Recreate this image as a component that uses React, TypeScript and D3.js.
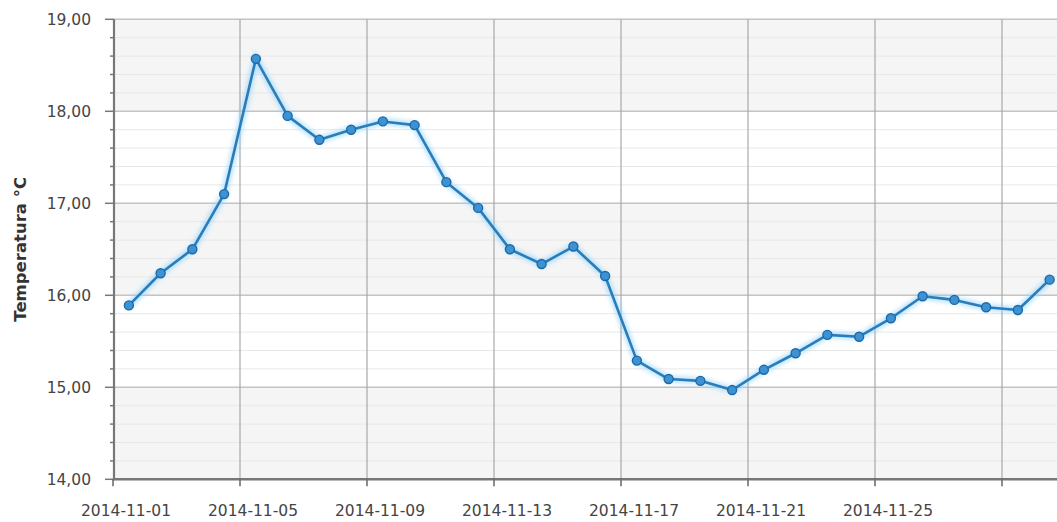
import React from "react";
import * as d3 from "d3";

const dates: string[] = [
  "2014-11-01","2014-11-02","2014-11-03","2014-11-04","2014-11-05","2014-11-06",
  "2014-11-07","2014-11-08","2014-11-09","2014-11-10","2014-11-11","2014-11-12",
  "2014-11-13","2014-11-14","2014-11-15","2014-11-16","2014-11-17","2014-11-18",
  "2014-11-19","2014-11-20","2014-11-21","2014-11-22","2014-11-23","2014-11-24",
  "2014-11-25","2014-11-26","2014-11-27","2014-11-28","2014-11-29","2014-11-30",
];
const temps: number[] = [
  15.89, 16.24, 16.50, 17.10, 18.57, 17.95, 17.69, 17.80, 17.89, 17.85,
  17.23, 16.95, 16.50, 16.34, 16.53, 16.21, 15.29, 15.09, 15.07, 14.97,
  15.19, 15.37, 15.57, 15.55, 15.75, 15.99, 15.95, 15.87, 15.84, 16.17,
];
const xTickDates: string[] = [
  "2014-11-01","2014-11-05","2014-11-09","2014-11-13","2014-11-17",
  "2014-11-21","2014-11-25","2014-11-29",
];
const xTickLabels: string[] = [
  "2014-11-01","2014-11-05","2014-11-09","2014-11-13","2014-11-17",
  "2014-11-21","2014-11-25","",
];
const yMajor: number[] = [14, 15, 16, 17, 18, 19];
const yTickLabels: string[] = ["14,00", "15,00", "16,00", "17,00", "18,00", "19,00"];
const yTitle = "Temperatura °C";

const W = 1057;
const H = 522;

export default function App() {
  const parse = (s: string) => new Date(s + "T00:00:00Z");
  const left = 114;
  const top = 19.3;
  const bottom = 479.3;
  const x = d3
    .scaleUtc()
    .domain([parse("2014-11-01"), parse("2014-12-01")])
    .range([113, 113 + 30 * 31.75]);
  const y = d3.scaleLinear().domain([14, 19]).range([bottom, top]);
  const right = W;

  const pts = dates.map((d, i) => ({
    x: x(new Date(parse(d).getTime() + 12 * 3600 * 1000)),
    y: y(temps[i]),
  }));
  const line = d3
    .line<{ x: number; y: number }>()
    .x((d) => d.x)
    .y((d) => d.y);
  const path = line(pts) || "";

  const minor = d3.range(14, 19.0001, 0.2).map((v) => Math.round(v * 10) / 10);
  const bands = [14, 15, 16, 17, 18].filter((v) => v % 2 === 0);

  const font = "'DejaVu Sans', Verdana, sans-serif";

  return (
    <svg
      width={W}
      height={H}
      style={{ position: "absolute", left: 0, top: 0, display: "block", background: "#ffffff" }}
    >
      <defs>
        <filter id="glow" x="-10%" y="-10%" width="120%" height="120%">
          <feGaussianBlur stdDeviation="2" />
        </filter>
      </defs>
      {bands.map((b) => (
        <rect
          key={"band" + b}
          x={left}
          y={y(b + 1)}
          width={right - left}
          height={y(b) - y(b + 1)}
          fill="#f5f5f5"
        />
      ))}
      {minor.map((v) => (
        <line
          key={"mg" + v}
          x1={left}
          x2={right}
          y1={y(v)}
          y2={y(v)}
          stroke="#e8e8e8"
          strokeWidth={1}
        />
      ))}
      {yMajor.slice(1).map((v) => (
        <line
          key={"Mg" + v}
          x1={left}
          x2={right}
          y1={y(v)}
          y2={y(v)}
          stroke="#c4c4c4"
          strokeWidth={1.6}
        />
      ))}
      {xTickDates.slice(1).map((d) => (
        <line
          key={"vg" + d}
          x1={x(parse(d))}
          x2={x(parse(d))}
          y1={top}
          y2={bottom}
          stroke="#a8a8a8"
          strokeWidth={1.2}
        />
      ))}
      <line x1={left} x2={left} y1={top} y2={bottom + 1} stroke="#777" strokeWidth={2.2} />
      <line x1={left - 1} x2={right} y1={bottom} y2={bottom} stroke="#777" strokeWidth={2.4} />
      {minor.map((v) => (
        <line
          key={"yt" + v}
          x1={yMajor.includes(v) ? left - 9 : left - 4}
          x2={left}
          y1={y(v)}
          y2={y(v)}
          stroke="#777"
          strokeWidth={1.5}
        />
      ))}
      {yMajor.map((v, i) => (
        <text
          key={"yl" + v}
          x={91}
          y={y(v) + 6}
          textAnchor="end"
          fontFamily={font}
          fontSize={15.5}
          fill="#444"
        >
          {yTickLabels[i]}
        </text>
      ))}
      {xTickDates.map((d, i) => (
        <g key={"xt" + d}>
          <line
            x1={x(parse(d))}
            x2={x(parse(d))}
            y1={bottom}
            y2={bottom + 7}
            stroke="#666"
            strokeWidth={1.5}
          />
          <text
            x={x(parse(d)) + 13}
            y={516}
            textAnchor="middle"
            fontFamily={font}
            fontSize={15.5}
            fill="#444"
          >
            {xTickLabels[i]}
          </text>
        </g>
      ))}
      <text
        transform={`translate(26, ${(top + bottom) / 2}) rotate(-90)`}
        textAnchor="middle"
        fontFamily={font}
        fontSize={16.5}
        fontWeight="bold"
        fill="#333"
      >
        {yTitle}
      </text>
      <path d={path} fill="none" stroke="#8fd3ff" strokeWidth={7} opacity={0.6} filter="url(#glow)" />
      <path d={path} fill="none" stroke="#2a7db8" strokeWidth={2.6} strokeLinejoin="round" />
      {pts.map((p, i) => (
        <circle
          key={"pt" + i}
          cx={p.x}
          cy={p.y}
          r={4.5}
          fill="#3d92d4"
          stroke="#1e6aa6"
          strokeWidth={1.4}
        />
      ))}
    </svg>
  );
}
